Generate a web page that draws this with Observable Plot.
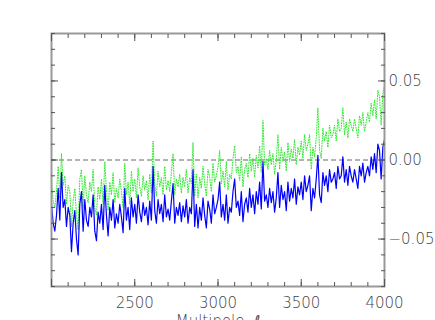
<!DOCTYPE html>
<html><head><meta charset="utf-8">
<script src="https://cdn.jsdelivr.net/npm/d3@7"></script>
<script src="https://cdn.jsdelivr.net/npm/@observablehq/plot@0.6"></script>
<style>body{margin:0;background:#fff} svg{display:block}</style>
</head><body><div id="chart"></div>
<script>
// Multipole ℓ from 2000 to 4000, step 10
const ellStart = 2000;
const ellStep = 10;

// solid blue series
const blueValues = [
  -0.028, -0.040, -0.045, -0.035, -0.018, -0.038, -0.008, -0.030, -0.025, -0.042,
  -0.030, -0.035, -0.058, -0.040, -0.032, -0.050, -0.060, -0.028, -0.020, -0.045,
  -0.025, -0.038, -0.042, -0.030, -0.036, -0.022, -0.045, -0.051, -0.033, -0.040,
  -0.028, -0.044, -0.016, -0.035, -0.048, -0.030, -0.038, -0.025, -0.043, -0.034,
  -0.040, -0.028, -0.036, -0.046, -0.018, -0.038, -0.030, -0.044, -0.024, -0.036,
  -0.028, -0.040, -0.022, -0.033, -0.039, -0.027, -0.035, -0.030, -0.041, -0.026,
  -0.038, -0.004, -0.032, -0.040, -0.025, -0.034, -0.028, -0.039, -0.022, -0.036,
  -0.031, -0.038, -0.026, -0.015, -0.040, -0.030, -0.035, -0.027, -0.039, -0.029,
  -0.036, -0.025, -0.040, -0.030, -0.034, -0.006, -0.042, -0.028, -0.043, -0.030,
  -0.038, -0.024, -0.035, -0.043, -0.026, -0.031, -0.040, -0.022, -0.034, -0.030,
  -0.025, -0.014, -0.036, -0.028, -0.038, -0.022, -0.040, -0.030, -0.033, -0.020,
  -0.012, -0.030, -0.026, -0.035, -0.020, -0.039, -0.028, -0.024, -0.033, -0.018,
  -0.030, -0.022, -0.034, -0.020, -0.028, -0.014, -0.031, -0.001, -0.026, -0.022,
  -0.030, -0.018, -0.027, -0.020, -0.033, -0.024, -0.008, -0.030, -0.016, -0.025,
  -0.020, -0.032, -0.014, -0.026, -0.018, -0.024, -0.012, -0.028, -0.017, -0.022,
  -0.014, -0.025, -0.010, -0.020, -0.016, -0.010, -0.032, -0.018, -0.024, -0.012,
   0.003, -0.022, -0.027, -0.008, -0.016, -0.010, -0.020, -0.006, -0.014, -0.012,
  -0.008, -0.018, -0.004, -0.012, -0.010,  0.002, -0.014, -0.006, -0.016, -0.004,
  -0.010, -0.014, -0.006, -0.012, -0.018, -0.004, -0.010, -0.002, -0.014, -0.008,
  -0.004, -0.010,  0.002, -0.006,  0.004, -0.008,  0.010,  0.006, -0.012,  0.008,
   0.013
];

// dotted green series
const greenValues = [
  -0.014, -0.026, -0.030, -0.020, -0.004, -0.024,  0.004, -0.016, -0.010, -0.028,
  -0.016, -0.020, -0.042, -0.026, -0.018, -0.035, -0.044, -0.012, -0.006, -0.030,
  -0.010, -0.022, -0.027, -0.014, -0.020, -0.006, -0.030, -0.035, -0.017, -0.025,
  -0.012, -0.028, -0.001, -0.019, -0.032, -0.014, -0.022, -0.008, -0.027, -0.018,
  -0.024, -0.012, -0.020, -0.030, -0.002, -0.022, -0.014, -0.028, -0.007, -0.020,
  -0.012, -0.024, -0.005, -0.017, -0.023, -0.010, -0.019, -0.013, -0.025, -0.009,
  -0.021,  0.012, -0.015, -0.023, -0.007, -0.017, -0.011, -0.022, -0.004, -0.019,
  -0.013, -0.020, -0.008,  0.004, -0.022, -0.012, -0.017, -0.009, -0.021, -0.011,
  -0.017, -0.006, -0.021, -0.011, -0.015,  0.011, -0.023, -0.009, -0.024, -0.011,
  -0.018, -0.004, -0.015, -0.023, -0.006, -0.011, -0.020, -0.002, -0.014, -0.010,
  -0.004,  0.006, -0.015, -0.007, -0.017, -0.001, -0.019, -0.009, -0.012,  0.001,
   0.009, -0.008, -0.004, -0.013,  0.002, -0.017, -0.006, -0.002, -0.011,  0.004,
  -0.007,  0.001, -0.011,  0.003, -0.005,  0.009, -0.008,  0.025, -0.003,  0.001,
  -0.006,  0.006, -0.003,  0.004, -0.009,  0.000,  0.016, -0.006,  0.008, -0.001,
   0.005, -0.007,  0.011, -0.001,  0.007,  0.001,  0.013, -0.003,  0.008,  0.003,
   0.012,  0.001,  0.016,  0.006,  0.010,  0.016, -0.006,  0.008,  0.002,  0.014,
   0.033,  0.006,  0.001,  0.020,  0.012,  0.018,  0.008,  0.022,  0.014,  0.016,
   0.022,  0.012,  0.026,  0.018,  0.020,  0.033,  0.016,  0.024,  0.014,  0.026,
   0.022,  0.018,  0.026,  0.020,  0.014,  0.028,  0.022,  0.030,  0.018,  0.024,
   0.030,  0.024,  0.036,  0.028,  0.038,  0.026,  0.044,  0.040,  0.022,  0.042,
   0.047
];

const xLabelTicks = [2500, 3000, 3500, 4000];
const xMajorTicks = [2000, 2500, 3000, 3500, 4000];
const xMinorTicks = [2000, 2100, 2200, 2300, 2400, 2500, 2600, 2700, 2800, 2900, 3000,
                     3100, 3200, 3300, 3400, 3500, 3600, 3700, 3800, 3900, 4000];
const yLabelTicks = [-0.05, 0, 0.05];
const yMinorTicks = [-0.08, -0.07, -0.06, -0.05, -0.04, -0.03, -0.02, -0.01, 0,
                     0.01, 0.02, 0.03, 0.04, 0.05, 0.06, 0.07, 0.08];
const xTitleWord = "Multipole";
const xTitleSymbol = "ℓ";

const rows = blueValues.map((v, i) => ({ell: ellStart + i * ellStep, blue: v, green: greenValues[i]}));

const tickColor = "#555";
const textColor = "#444";
const fmt = d3.format(".2f");

const chart = Plot.plot({
  width: 435, height: 320,
  marginLeft: 51, marginRight: 51, marginTop: 33, marginBottom: 34,
  x: {domain: [2000, 4000]},
  y: {domain: [-0.08, 0.08]},
  style: {fontFamily: "'DejaVu Sans', sans-serif", fontWeight: 200, fontSize: "15px", color: textColor, background: "#fff", overflow: "visible"},
  marks: [
    Plot.ruleY([0], {stroke: "#666", strokeWidth: 1.2, strokeDasharray: "5,3"}),
    Plot.line(rows, {x: "ell", y: "green", stroke: "#2ee82e", strokeWidth: 1, strokeDasharray: "1,1.6"}),
    Plot.line(rows, {x: "ell", y: "blue", stroke: "#0000ff", strokeWidth: 1.2}),
    Plot.frame({stroke: "#999", strokeWidth: 2}),
    Plot.axisX({anchor: "bottom", ticks: xMinorTicks, tickSize: -4, tickFormat: () => "", stroke: tickColor, label: null}),
    Plot.axisX({anchor: "top", ticks: xMinorTicks, tickSize: -4, tickFormat: () => "", stroke: tickColor, label: null}),
    Plot.axisX({anchor: "bottom", ticks: xMajorTicks, tickSize: -7, tickFormat: () => "", stroke: tickColor, label: null}),
    Plot.axisX({anchor: "top", ticks: xMajorTicks, tickSize: -7, tickFormat: () => "", stroke: tickColor, label: null}),
    Plot.axisX({anchor: "bottom", ticks: xLabelTicks, tickSize: 0, tickPadding: 11, tickFormat: d => String(d), label: null, fill: textColor, fontSize: 15}),
    Plot.axisY({anchor: "left", ticks: yMinorTicks, tickSize: -4, tickFormat: () => "", stroke: tickColor, label: null}),
    Plot.axisY({anchor: "right", ticks: yMinorTicks, tickSize: -4, tickFormat: () => "", stroke: tickColor, label: null}),
    Plot.axisY({anchor: "left", ticks: yLabelTicks, tickSize: -7, tickFormat: () => "", stroke: tickColor, label: null}),
    Plot.axisY({anchor: "right", ticks: yLabelTicks, tickSize: -7, tickFormat: () => "", stroke: tickColor, label: null}),
    Plot.axisY({anchor: "right", ticks: yLabelTicks, tickSize: 0, tickPadding: 4, tickFormat: d => fmt(d), label: null, fill: textColor, fontSize: 15}),
    Plot.text([xTitleWord + "  " + xTitleSymbol], {text: d => d, frameAnchor: "bottom", lineAnchor: "top", dy: 29, fill: textColor, fontSize: 15, className: "xtitle"})
  ]
});
document.getElementById("chart").appendChild(chart);
// italicise the ℓ symbol in the axis title
chart.querySelectorAll(".xtitle text").forEach(t => {
  t.textContent = "";
  const a = document.createElementNS("http://www.w3.org/2000/svg", "tspan");
  a.textContent = xTitleWord + "\u00a0\u00a0";
  const b = document.createElementNS("http://www.w3.org/2000/svg", "tspan");
  b.textContent = xTitleSymbol;
  b.setAttribute("font-style", "italic");
  t.appendChild(a); t.appendChild(b);
});
</script>
</body></html>
